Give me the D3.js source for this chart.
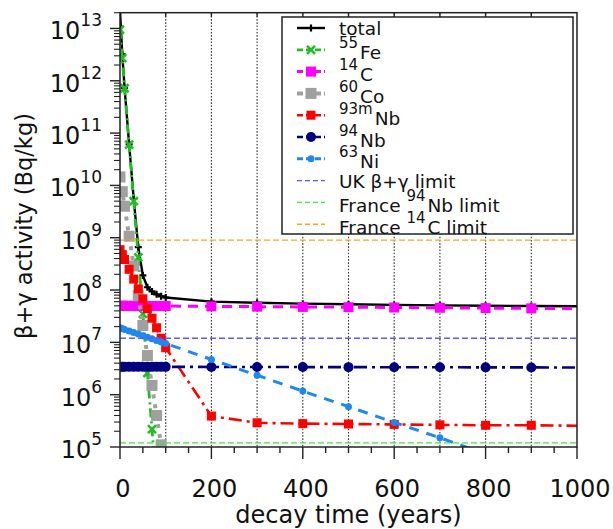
<!DOCTYPE html>
<html><head><meta charset="utf-8">
<script src="https://cdn.jsdelivr.net/npm/d3@7"></script>
<style>
body{margin:0;background:#fff}
svg{display:block}
text{font-family:"DejaVu Sans",sans-serif;fill:#111}
</style>
</head><body>
<svg id="chart" width="613" height="529"></svg>
<script>
// ---- data ----
const years = [0,5,10,20,30,40,50,60,70,80,90,100,200,300,400,500,600,700,800,900,1000];
const total = [2.2e13,3.2e12,7.3e11,6.1e10,5.5e9,6.6e8,1.9e8,1.13e8,9.4e7,8.3e7,7.6e7,7.2e7,6.0e7,5.7e7,5.5e7,5.35e7,5.2e7,5.1e7,5.0e7,4.95e7,4.9e7];
const fe55 = [9.5e12,2.7e12,7.2e11,6.0e10,5.0e9,4.2e8,3.5e7,2.6e6,2.2e5,1.8e4,1.5e3,1.2e2,null,null,null,null,null,null,null,null,null];
const c14 = [5.0e7,5.0e7,5.0e7,4.99e7,4.98e7,4.98e7,4.97e7,4.96e7,4.95e7,4.95e7,4.94e7,4.94e7,4.88e7,4.82e7,4.76e7,4.70e7,4.64e7,4.58e7,4.52e7,4.47e7,4.41e7];
const co60 = [1.45e10,7.6e9,4.0e9,1.07e9,2.9e8,7.8e7,2.1e7,5.6e6,1.5e6,4.0e5,1.1e5,2.9e4,null,null,null,null,null,null,null,null,null];
const nb93m = [5.9e8,4.76e8,3.83e8,2.49e8,1.62e8,1.05e8,6.8e7,4.4e7,2.9e7,1.9e7,1.2e7,7.9e6,3.9e5,2.9e5,2.8e5,2.75e5,2.7e5,2.65e5,2.6e5,2.6e5,2.55e5];
const nb94 = [3.4e6,3.4e6,3.4e6,3.4e6,3.4e6,3.4e6,3.4e6,3.4e6,3.4e6,3.4e6,3.4e6,3.4e6,3.39e6,3.38e6,3.37e6,3.36e6,3.35e6,3.34e6,3.33e6,3.32e6,3.31e6];
const ni63 = [1.9e7,1.84e7,1.77e7,1.65e7,1.54e7,1.44e7,1.34e7,1.25e7,1.17e7,1.09e7,1.02e7,9.5e6,4.7e6,2.35e6,1.17e6,5.9e5,2.95e5,1.5e5,7.4e4,3.7e4,1.85e4];
const limitUK = 1.2e7;
const limitFrNb94 = 1.2e5;
const limitFrC14 = 9e8;
const xTickLabels = [0,200,400,600,800,1000];
const yTickExponents = [5,6,7,8,9,10,11,12,13];
const gridYears = [100,200,300,400,500,600,700,800,900];

// ---- layout ----
const svg = d3.select("#chart");
const L = 120, R = 577, T = 12.7, B = 447;
const x = d3.scaleLinear().domain([0,1000]).range([L,R]);
const y = d3.scaleLog().domain([1e5,2e13]).range([B,T]);

svg.append("defs").append("clipPath").attr("id","plotclip")
  .append("rect").attr("x",L).attr("y",T).attr("width",R-L).attr("height",B-T);

// grid
svg.append("g").selectAll("line").data(gridYears).join("line")
  .attr("x1",d=>x(d)).attr("x2",d=>x(d)).attr("y1",T).attr("y2",B)
  .attr("stroke","#333").attr("stroke-width",1.1).attr("stroke-dasharray","1.6,1.6");

// bottom axis ticks (every 50, long at 200)
const bt = d3.range(0,1001,50);
svg.append("g").selectAll("line").data(bt).join("line")
  .attr("x1",d=>x(d)).attr("x2",d=>x(d)).attr("y1",B)
  .attr("y2",d=> d%200===0 ? B+12 : B+6)
  .attr("stroke","#222").attr("stroke-width",1.4);
// top ticks inward
svg.append("g").selectAll("line").data(d3.range(100,1000,100)).join("line")
  .attr("x1",d=>x(d)).attr("x2",d=>x(d)).attr("y1",T).attr("y2",T+4)
  .attr("stroke","#222").attr("stroke-width",1.4);

// left axis ticks (major + log minors)
const leftG = svg.append("g");
yTickExponents.forEach(e=>{
  leftG.append("line").attr("x1",L-10).attr("x2",L).attr("y1",y(Math.pow(10,e))).attr("y2",y(Math.pow(10,e)))
    .attr("stroke","#222").attr("stroke-width",1.4);
});
for(let e=5;e<=13;e++){
  for(let m=2;m<=9;m++){
    const v=m*Math.pow(10,e);
    if(v>2e13) continue;
    leftG.append("line").attr("x1",L-6).attr("x2",L).attr("y1",y(v)).attr("y2",y(v))
      .attr("stroke","#222").attr("stroke-width",1.1);
  }
}

// tick labels
svg.append("g").selectAll("text").data(xTickLabels).join("text")
  .attr("x",d=>x(d)+3).attr("y",497).attr("text-anchor","middle")
  .attr("font-size",24).text(d=>d);
const yl = svg.append("g").selectAll("text").data(yTickExponents).join("text")
  .attr("x",102).attr("y",d=>y(Math.pow(10,d))+11).attr("text-anchor","end")
  .attr("font-size",24);
yl.append("tspan").text("10");
yl.append("tspan").attr("font-size",17).attr("dy",-13).text(d=>d);

// axis titles
svg.append("text").attr("x",(L+R)/2).attr("y",523).attr("text-anchor","middle")
  .attr("font-size",24).text("decay time (years)");
svg.append("text").attr("transform","translate(32,226) rotate(-90)")
  .attr("text-anchor","middle").attr("font-size",22.5).text("β+γ activity (Bq/kg)");

// series
const series = [
  {name:"total", vals:total, color:"#000", w:2.4, dash:null, marker:"plus", size:7},
  {name:"fe55", vals:fe55, color:"#1fbf1f", w:2.8, dash:"9,4,2,4", marker:"cross", size:8},
  {name:"c14", vals:c14, color:"#ff00ff", w:3, dash:"10,7", marker:"square", size:10},
  {name:"co60", vals:co60, color:"#a0a0a0", w:4, dash:"4,6", marker:"square", size:11},
  {name:"nb93m", vals:nb93m, color:"#ff0000", w:2.6, dash:"13,5,3,5", marker:"square", size:9},
  {name:"nb94", vals:nb94, color:"#000080", w:2.6, dash:"13,5,3,5", marker:"circle", size:10},
  {name:"ni63", vals:ni63, color:"#1e88ee", w:3, dash:"10,8", marker:"circle", size:7}
];

const plot = svg.append("g").attr("clip-path","url(#plotclip)");

function drawMarker(g, type, cx, cy, size, color){
  const h=size/2;
  if(type==="plus"){
    g.append("path").attr("d",`M${cx-h},${cy}H${cx+h}M${cx},${cy-h}V${cy+h}`)
      .attr("stroke",color).attr("stroke-width",2.2).attr("fill","none");
  } else if(type==="cross"){
    g.append("path").attr("d",`M${cx-h},${cy-h}L${cx+h},${cy+h}M${cx-h},${cy+h}L${cx+h},${cy-h}`)
      .attr("stroke",color).attr("stroke-width",2.6).attr("fill","none");
  } else if(type==="square"){
    g.append("rect").attr("x",cx-h).attr("y",cy-h).attr("width",size).attr("height",size).attr("fill",color);
  } else if(type==="circle"){
    g.append("circle").attr("cx",cx).attr("cy",cy).attr("r",h).attr("fill",color);
  }
}

series.forEach(s=>{
  const pts = years.map((t,i)=>[t,s.vals[i]]).filter(p=>p[1]!=null);
  const line = d3.line().x(p=>x(p[0])).y(p=>y(p[1]));
  const p = plot.append("path").attr("d",line(pts)).attr("fill","none")
    .attr("stroke",s.color).attr("stroke-width",s.w);
  if(s.dash) p.attr("stroke-dasharray",s.dash);
  const mg = plot.append("g");
  pts.forEach(pt=>{ if(pt[0]<1000) drawMarker(mg,s.marker,x(pt[0]),y(pt[1]),s.size,s.color); });
});

// limits
const limits = [
  {v:limitUK, color:"#5a5aff"},
  {v:limitFrNb94, color:"#3ee83e"},
  {v:limitFrC14, color:"#ffa31a"}
];
limits.forEach(l=>{
  plot.append("line").attr("x1",L).attr("x2",R).attr("y1",y(l.v)).attr("y2",y(l.v))
    .attr("stroke",l.color).attr("stroke-width",1.4).attr("stroke-dasharray","6,3");
});

// frame
svg.append("rect").attr("x",L).attr("y",T).attr("width",R-L).attr("height",B-T)
  .attr("fill","none").attr("stroke","#222").attr("stroke-width",1.5);

// legend
const legendRows = [
  {pre:"total", sup:"", post:"", s:series[0]},
  {pre:"", sup:"55", post:"Fe", s:series[1]},
  {pre:"", sup:"14", post:"C", s:series[2]},
  {pre:"", sup:"60", post:"Co", s:series[3]},
  {pre:"", sup:"93m", post:"Nb", s:series[4]},
  {pre:"", sup:"94", post:"Nb", s:series[5]},
  {pre:"", sup:"63", post:"Ni", s:series[6]},
  {pre:"UK β+γ limit", sup:"", post:"", lim:limits[0]},
  {pre:"France ", sup:"94", post:"Nb limit", lim:limits[1]},
  {pre:"France ", sup:"14", post:"C limit", lim:limits[2]}
];
const lg = svg.append("g");
lg.append("rect").attr("x",282).attr("y",17).attr("width",291).attr("height",217)
  .attr("fill","#fff").attr("stroke","#222").attr("stroke-width",1.5);
legendRows.forEach((r,i)=>{
  const ry = 28 + i*21.8;
  if(r.s){
    const ln = lg.append("line").attr("x1",297).attr("x2",325).attr("y1",ry).attr("y2",ry)
      .attr("stroke",r.s.color).attr("stroke-width",r.s.w);
    if(r.s.dash) ln.attr("stroke-dasharray","6,3");
    drawMarker(lg,r.s.marker,311,ry,r.s.size,r.s.color);
  } else {
    lg.append("line").attr("x1",297).attr("x2",325).attr("y1",ry).attr("y2",ry)
      .attr("stroke",r.lim.color).attr("stroke-width",1.4).attr("stroke-dasharray","5,3");
  }
  const hasSup = r.sup!=="";
  const t = lg.append("text").attr("x",339).attr("y", hasSup ? ry+9.5 : ry+7).attr("font-size",18.5);
  if(r.pre) t.append("tspan").text(r.pre);
  if(hasSup){
    t.append("tspan").attr("font-size",15).attr("dy",-11).text(r.sup);
    t.append("tspan").attr("dy",11).attr("dx",2).text(r.post);
  }
});
</script>
</body></html>
